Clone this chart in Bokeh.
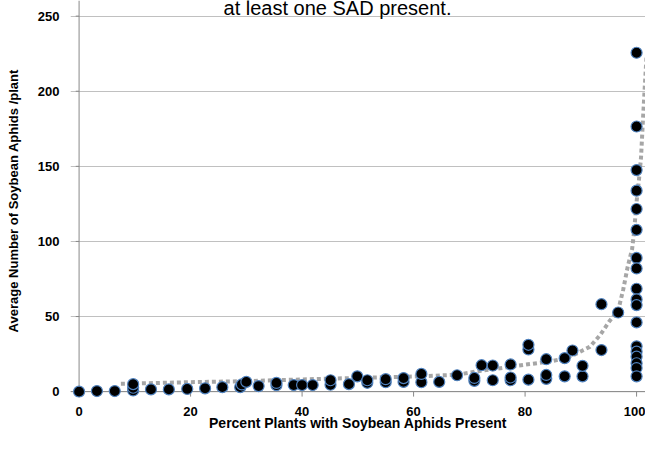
from bokeh.plotting import figure
from bokeh.models import Range1d, FixedTicker, Span, Label
from bokeh.embed import file_html
from bokeh.resources import INLINE

# Data
pct_plants = [0, 3.2, 6.4, 9.7, 9.7, 9.7, 12.9, 16.1, 19.4, 22.6, 25.7,
              28.9, 29.2, 30.0, 32.2, 35.4, 35.4, 38.5, 40.0, 41.9, 45.1, 45.1,
              48.4, 49.9, 51.7, 51.7, 55.0, 55.0, 58.2, 58.2, 61.4, 61.4, 64.6,
              67.8, 70.9, 70.9, 72.2, 74.2, 74.2, 77.4, 77.4, 77.4, 80.6, 80.6,
              80.6, 83.8, 83.8, 83.8, 87.1, 87.1, 88.5, 90.3, 90.3, 93.7, 93.7,
              96.7,
              100, 100, 100, 100, 100, 100, 100, 100, 100, 100, 100, 100, 100,
              100, 100, 100, 100, 100]
aphids = [0, 0.4, 0.4, 0.8, 2.6, 5.0, 1.5, 1.5, 1.8, 2.2, 3.0,
          3.0, 4.8, 6.5, 3.7, 4.3, 5.8, 4.4, 4.4, 4.4, 4.6, 7.6,
          5.0, 10.2, 5.9, 7.6, 6.3, 8.3, 6.5, 9.0, 6.3, 11.8, 6.5,
          10.9, 7.2, 9.1, 17.6, 7.6, 17.4, 7.6, 9.4, 18.1, 8.0, 28.1,
          31.2, 8.5, 11.1, 21.6, 10.2, 22.3, 27.4, 10.2, 17.2, 27.7, 58.2,
          52.7,
          225.6, 176.5, 147.5, 133.8, 121.6, 107.7, 89, 82, 68.5, 61.4, 57.6,
          46.1, 30.2, 26.6, 23.3, 18.9, 15.7, 10.2]

# Trend line (dotted)
trend_x = [7.5, 20, 30, 45.3, 55, 62, 67.9, 71.4, 76, 79.7, 84.4, 87.1, 88.8,
           90.4, 91.6, 93.4, 95.2, 96.7, 97.6, 98.4, 99.2, 99.6, 99.9, 100.4,
           100.8, 101.1, 101.5, 101.8]
trend_y = [5.2, 6.3, 7.0, 8.7, 9.6, 10.3, 11.3, 13.5, 15.8, 17.8, 20, 22.2, 24.5,
           27.6, 29.8, 37.4, 47.2, 54, 67.9, 83, 95, 108, 123, 140,
           156, 178, 205, 224]

x_ticks = [0, 20, 40, 60, 80, 100]
y_ticks = [0, 50, 100, 150, 200, 250]

title_text = "at least one SAD present."
x_label = "Percent Plants with Soybean Aphids Present"
y_label = "Average Number of  Soybean Aphids /plant"

FONT = "Liberation Sans"

p = figure(width=645, height=433, output_backend="svg", toolbar_location=None,
           x_range=Range1d(-1.54, 101.6), y_range=Range1d(-3.9, 260.4),
           min_border_left=70, min_border_right=0, min_border_top=0,
           min_border_bottom=30)
p.outline_line_color = None
p.background_fill_color = "white"
p.border_fill_color = "white"

# grid
p.xgrid.grid_line_color = None
p.ygrid.ticker = FixedTicker(ticks=y_ticks)
p.ygrid.grid_line_color = "#c0c0c0"
p.ygrid.grid_line_width = 1

for ax, ticks in ((p.xaxis[0], x_ticks), (p.yaxis[0], y_ticks)):
    ax.ticker = FixedTicker(ticks=ticks)
    ax.axis_line_color = None
    ax.major_tick_line_color = None
    ax.minor_tick_line_color = None
    ax.major_label_text_font = FONT
    ax.major_label_text_font_style = "bold"
    ax.major_label_text_font_size = "13px"
    ax.major_label_text_color = "black"
    ax.axis_label_text_font = FONT
    ax.axis_label_text_font_style = "bold"
    ax.axis_label_text_color = "black"

p.xaxis[0].major_label_standoff = 3
p.xaxis[0].axis_label = x_label
p.xaxis[0].axis_label_text_font_size = "14px"
p.xaxis[0].axis_label_standoff = -4

p.yaxis[0].major_label_standoff = 5
p.yaxis[0].axis_label = y_label
p.yaxis[0].axis_label_text_font_size = "13px"
p.yaxis[0].axis_label_standoff = 14

# axis lines at zero
vline = Span(location=0, dimension="height", line_color="#888888", line_width=1, level="underlay")
hline = Span(location=0, dimension="width", line_color="#888888", line_width=1, level="underlay")
p.add_layout(vline)
p.add_layout(hline)

# tick marks
p.segment(x0=x_ticks, y0=[0] * len(x_ticks), x1=x_ticks, y1=[-3.3] * len(x_ticks),
          line_color="#888888", line_width=1)
p.segment(x0=[-0.6] * len(y_ticks), y0=y_ticks, x1=[0] * len(y_ticks), y1=y_ticks,
          line_color="#888888", line_width=1)

# trend line
p.line(trend_x, trend_y, line_color="#a6a6a6", line_width=4, line_dash="4 3")

# points
p.scatter(pct_plants, aphids, size=11, fill_color="black",
          line_color="#4f81bd", line_width=1.2)

# title (cut at the top, as in the reference)
p.add_layout(Label(x=267, y=390, x_units="screen", y_units="screen", text=title_text,
                   text_font=FONT, text_font_size="20px", text_align="center",
                   text_baseline="alphabetic", text_color="black"))

open("out.html", "w").write(file_html(p, INLINE))
